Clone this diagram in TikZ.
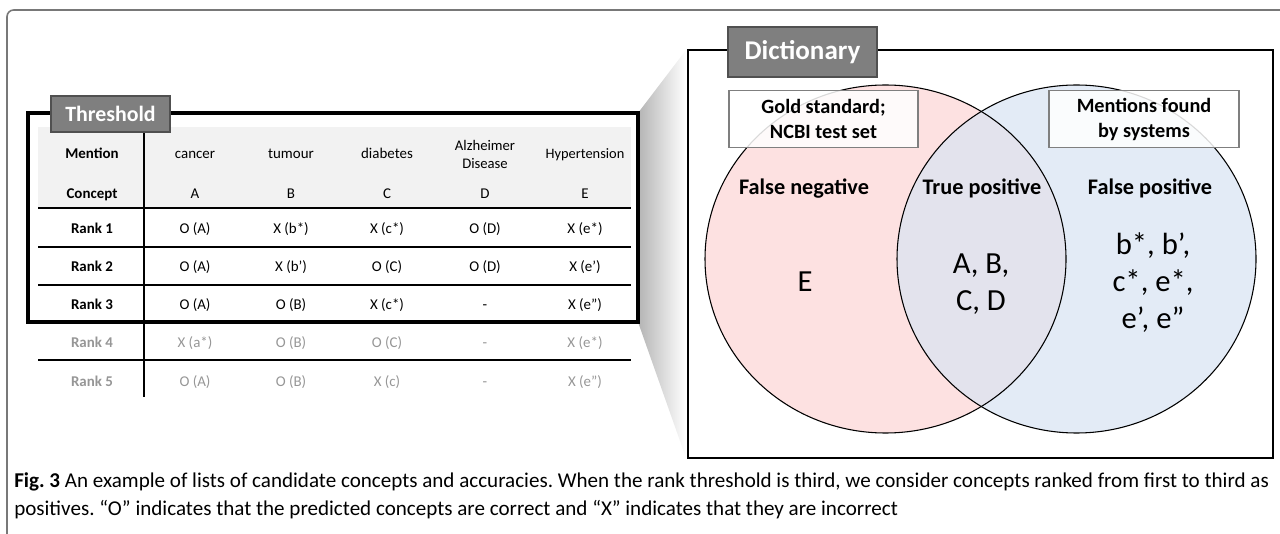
\documentclass[tikz,border=0pt]{standalone}
\usepackage{fontspec}
\setmainfont{Carlito}
\frenchspacing
\definecolor{pinkfill}{RGB}{253,225,225}
\definecolor{bluefill}{RGB}{227,235,246}
\definecolor{midfill}{RGB}{227,227,237}
\definecolor{labelgray}{RGB}{127,127,127}
\definecolor{labeledge}{RGB}{80,80,80}
\definecolor{hdrbg}{RGB}{242,242,242}
\definecolor{fadedtxt}{RGB}{150,150,150}
\definecolor{framegray}{RGB}{120,120,120}
\tikzset{
  tabtxt/.style={font=\fontsize{11.2}{13}\selectfont, inner sep=0pt, text height=0.72em, text depth=0.22em, yshift=-1.5pt},
  tabhead/.style={tabtxt, font=\fontsize{11.2}{13}\selectfont\bfseries},
  faded/.style={text=fadedtxt},
  tagbox/.style={draw=labeledge, fill=labelgray, text=white, line width=0.8pt},
  notebox/.style={draw=labelgray, fill=white, fill opacity=0.85, line width=0.8pt},
  vennhead/.style={font=\fontsize{16.7}{19}\selectfont\bfseries, inner sep=0pt, text height=0.72em, text depth=0.22em, yshift=-1.5pt},
  venntxt/.style={font=\fontsize{23}{27.75}\selectfont, inner sep=0pt, align=center},
  notetxt/.style={font=\fontsize{15.2}{18.75}\selectfont\bfseries, inner sep=0pt, align=center},
  captxt/.style={anchor=base west, inner sep=0pt, font=\fontsize{15.8}{18}\selectfont},
  rowline/.style={line width=0.8pt, black},
}
\begin{document}
\begin{tikzpicture}[x=0.75pt,y=-0.75pt]
\useasboundingbox (0,0) rectangle (1280,534);
% outer frame
\draw[framegray, line width=1.2pt, rounded corners=5pt] (7,534) |- (1280,10);
% funnel shading
\shade[left color={rgb,255:red,180;green,180;blue,180}, right color=white]
  (638,113) -- (686,50) -- (686,458) -- (638,322) -- cycle;
% table header background
\fill[hdrbg] (38,127) rectangle (631,208);
% row lines
\draw[rowline] (38,208) -- (631,208);
\draw[rowline] (38,247) -- (631,247);
\draw[rowline] (38,285) -- (631,285);
\draw[rowline] (38,360) -- (631,360);
\draw[rowline] (144,127) -- (144,397);
% thick threshold box
\draw[line width=2.3pt] (28,113) rectangle (638,322);
\node[tagbox, minimum width=119*0.75pt, minimum height=36*0.75pt, inner sep=0pt,
  font=\fontsize{16.4}{18}\selectfont\bfseries] (thr) at (110.5,114) {Threshold};
% table text
\node[tabhead] (hm) at (92,153) {Mention};
\node[tabhead] (hc) at (92,193) {Concept};
\node[tabhead] (r1) at (92,228) {Rank 1};
\node[tabhead] (r2) at (92,266) {Rank 2};
\node[tabhead] (r3) at (92,304) {Rank 3};
\node[tabhead, faded] (r4) at (92,342) {Rank 4};
\node[tabhead, faded] (r5) at (92,381) {Rank 5};
\node[tabtxt] (m1) at (195,153) {cancer};
\node[tabtxt] (m2) at (291,153) {tumour};
\node[tabtxt] (m3) at (387,153) {diabetes};
\node[inner sep=0pt, align=center, font=\fontsize{11}{13.5}\selectfont] (m4) at (485,154) {Alzheimer\\Disease};
\node[tabtxt, font=\fontsize{10.8}{13}\selectfont] (m5) at (585,153) {Hypertension};
\foreach \n/\x/\t in {1/195/A,2/291/B,3/387/C,4/485/D,5/585/E}
  \node[tabtxt] (c\n) at (\x,193) {\t};
\foreach \n/\x/\t in {1/195/O (A),2/291/X (b*),3/387/X (c*),4/485/O (D),5/585/X (e*)}
  \node[tabtxt] (a\n) at (\x,228) {\t};
\foreach \n/\x/\t in {1/195/O (A),2/291/X (b’),3/387/O (C),4/485/O (D),5/585/X (e’)}
  \node[tabtxt] (b\n) at (\x,266) {\t};
\foreach \n/\x/\t in {1/195/O (A),2/291/O (B),3/387/X (c*),4/485/-,5/585/X (e”)}
  \node[tabtxt] (d\n) at (\x,304) {\t};
\foreach \n/\x/\t in {1/195/X (a*),2/291/O (B),3/387/O (C),4/485/-,5/585/X (e*)}
  \node[tabtxt, faded] (e\n) at (\x,342) {\t};
\foreach \n/\x/\t in {1/195/O (A),2/291/O (B),3/387/X (c),4/485/-,5/585/X (e”)}
  \node[tabtxt, faded] (f\n) at (\x,381) {\t};
% dictionary box
\draw[line width=1.5pt, fill=white] (688,50) rectangle (1273,458);
% venn
\fill[pinkfill] (885.5,259) ellipse [x radius=180.5, y radius=174];
\fill[bluefill] (1076.5,259) ellipse [x radius=179.5, y radius=174];
\begin{scope}
  \clip (885.5,259) ellipse [x radius=180.5, y radius=174];
  \fill[midfill] (1076.5,259) ellipse [x radius=179.5, y radius=174];
\end{scope}
\draw[line width=0.8pt] (885.5,259) ellipse [x radius=180.5, y radius=174];
\draw[line width=0.8pt] (1076.5,259) ellipse [x radius=179.5, y radius=174];
% dictionary tag
\node[tagbox, minimum width=149*0.75pt, minimum height=50*0.75pt, inner sep=0pt,
  font=\fontsize{20.3}{22}\selectfont\bfseries] (dict) at (802.5,52) {Dictionary};
% note boxes
\node[notebox, minimum width=189*0.75pt, minimum height=57*0.75pt, inner sep=0pt] (goldbox) at (823.5,119) {};
\node[notebox, minimum width=190*0.75pt, minimum height=57*0.75pt, inner sep=0pt] (sysbox) at (1144,119) {};
\node[notetxt] (goldtxt) at (goldbox.center) {Gold standard;\\NCBI test set};
\node[notetxt] (systxt) at (sysbox.center) {Mentions found\\by systems};
% venn labels
\node[vennhead] (fn) at (804,189) {False negative};
\node[vennhead] (tp) at (982,189) {True positive};
\node[vennhead] (fp) at (1150,189) {False positive};
\node[venntxt] (fnset) at (805,282) {E};
\node[venntxt] (tpset) at (981,284) {A, B,\\C, D};
\node[venntxt] (fpset) at (1153,283) {b*, b’,\\c*, e*,\\e’, e”};
% caption
\node[captxt] (cap1) at (14,487)
  {\textbf{Fig. 3} An example of lists of candidate concepts and accuracies. When the rank threshold is third, we consider concepts ranked from first to third as};
\node[captxt] (cap2) at (14,515)
  {positives. “O” indicates that the predicted concepts are correct and “X” indicates that they are incorrect};
\end{tikzpicture}
\end{document}
